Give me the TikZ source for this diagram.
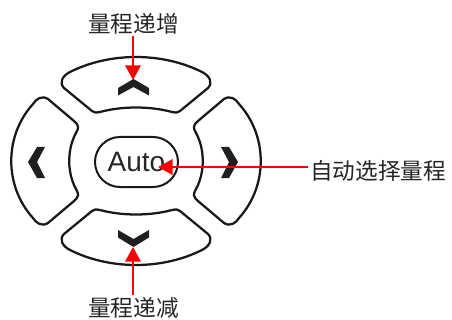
\documentclass[tikz,border=0pt]{standalone}
\usepackage{fontspec}
\setmainfont{Liberation Sans}
\newfontfamily\cjk{Noto Sans CJK SC}
\usetikzlibrary{arrows.meta,shapes.misc}
\def\padtop{(-66,-89) .. controls (-26,-109) and (26,-109) .. (66,-89)
  .. controls (74,-85) and (77,-78) .. (72,-73)
  -- (44,-50)
  .. controls (42,-48) and (39,-48) .. (36,-49)
  .. controls (14,-55) and (-14,-55) .. (-36,-49)
  .. controls (-39,-48) and (-42,-48) .. (-44,-50)
  -- (-72,-73)
  .. controls (-77,-78) and (-74,-85) .. (-66,-89) -- cycle}
\def\padleft{(-103,-57) .. controls (-132,-25) and (-132,25) .. (-103,57)
  .. controls (-100,62) and (-94,66) .. (-88,62)
  -- (-62,40)
  .. controls (-57,36) and (-57,33) .. (-60,28)
  .. controls (-69,12) and (-69,-12) .. (-60,-28)
  .. controls (-57,-33) and (-57,-36) .. (-62,-40)
  -- (-88,-62)
  .. controls (-94,-66) and (-100,-62) .. (-103,-57) -- cycle}
\begin{document}
\begin{tikzpicture}[x=0.75pt,y=-0.75pt,
  btn/.style={draw=black!90, line width=1.7pt, line join=round},
  chev/.style={fill=black!88, draw=none},
  redarrow/.style={draw=red, line width=2pt, -{Triangle[width=11.5pt,length=11pt]}},
  lbl/.style={font=\cjk\fontsize{17}{17}\selectfont, inner sep=0pt, text=black!85}]
\useasboundingbox (0,0) rectangle (452,320);
% buttons
\begin{scope}[shift={(136,161)}]
  \draw[btn] \padtop;
  \begin{scope}[yscale=-1]
    \draw[btn] \padtop;
  \end{scope}
  \draw[btn] \padleft;
  \begin{scope}[xscale=-1]
    \draw[btn] \padleft;
  \end{scope}
\end{scope}
% chevrons
\fill[chev] (118,88) -- (133.5,79) -- (149,88) -- (149,95.5) -- (133.5,87) -- (118,95.5) -- cycle;
\fill[chev] (118,230) -- (133.5,239) -- (149,230) -- (149,237.5) -- (133.5,247) -- (118,237.5) -- cycle;
\fill[chev] (28,162) -- (37,147) -- (45,147) -- (37,162) -- (45,178) -- (37,178) -- cycle;
\fill[chev] (238,162) -- (229,147) -- (221,147) -- (229,162) -- (221,178) -- (229,178) -- cycle;
% auto button
\node[draw=black!90, line width=1.5pt, rounded rectangle, minimum width=62.25pt, minimum height=37.5pt,
  inner sep=0pt, font=\fontsize{21}{21}\selectfont, text=black!85] (auto) at (136.5,162) {Auto\hspace{3pt}};
% labels
\node[lbl] (inc) at (133.5,24) {量程递增};
\node[lbl] (dec) at (133.5,308) {量程递减};
\node[lbl, anchor=west] (sel) at (310,171) {自动选择量程};
\coordinate (uptip) at (133,80);
\coordinate (dntip) at (133,247);
\coordinate (autotip) at (158,167);
\draw[redarrow] (inc.south -| uptip) ++(0,1) -- (uptip);
\draw[redarrow] (dec.north -| dntip) ++(0,-2) -- (dntip);
\draw[redarrow] (sel.west |- autotip) ++(-2,0) -- (autotip);
\end{tikzpicture}
\end{document}
